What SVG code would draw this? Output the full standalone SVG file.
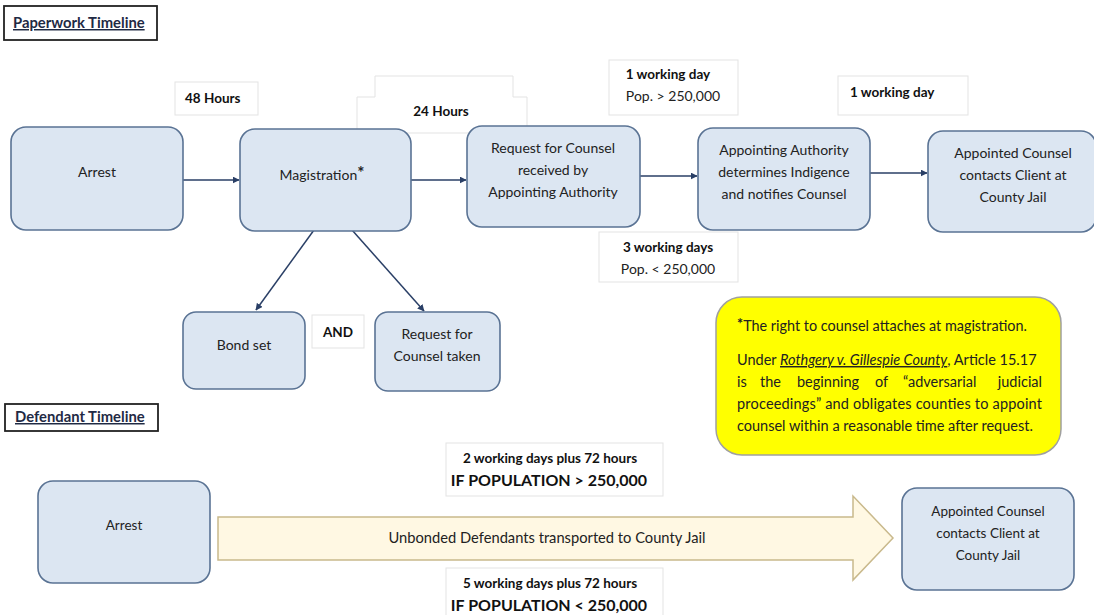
<svg xmlns="http://www.w3.org/2000/svg" width="1094" height="615" viewBox="0 0 1094 615">
<style>
.node{fill:#DCE6F2;stroke:#5A7394;stroke-width:1.6}
.lbl{fill:#fff;stroke:#E3E3E3;stroke-width:1}
.t{font-family:Lato,"Open Sans",sans-serif;font-size:14px;fill:#222;text-anchor:middle}
.b{font-family:Lato,"Open Sans",sans-serif;font-size:13.5px;font-weight:bold;fill:#111}
.c{text-anchor:middle}
.conn{stroke:#2A3F66;stroke-width:1.5;fill:none}
.y{font-family:Lato,"Open Sans",sans-serif;font-size:14.5px;fill:#222}
</style>
<defs>
<marker id="ah" viewBox="0 0 10 10" refX="9" refY="5" markerWidth="7" markerHeight="7" orient="auto" markerUnits="userSpaceOnUse"><path d="M0,0 L10,5 L0,10 z" fill="#2A3F66"/></marker>
</defs>
<rect width="1094" height="615" fill="#fff"/>

<g id="title-paperwork">
<rect x="4" y="6" width="153" height="34" fill="#fff" stroke="#222" stroke-width="1.8"/>
<text x="13" y="28" class="b" style="font-size:14.8px;fill:#1F2A44" text-decoration="underline">Paperwork Timeline</text>
</g>

<g id="lbl-48">
<rect x="175" y="82" width="83" height="33" class="lbl"/>
<text x="185" y="103" class="b">48 Hours</text>
</g>
<g id="lbl-24">
<path d="M375,97 V76 H513 V97 H527 V133 H357 V97 Z" class="lbl"/>
<text x="441" y="116" class="b c">24 Hours</text>
</g>
<g id="lbl-1day-a">
<rect x="609" y="60" width="129" height="55" class="lbl"/>
<text x="668" y="79" class="b c">1 working day</text>
<text x="673" y="101" class="t">Pop. &gt; 250,000</text>
</g>
<g id="lbl-1day-b">
<rect x="838" y="76" width="130" height="39" class="lbl"/>
<text x="850" y="97" class="b">1 working day</text>
</g>
<g id="lbl-3days">
<rect x="599" y="232" width="139" height="50" class="lbl"/>
<text x="668" y="252" class="b c">3 working days</text>
<text x="668" y="274" class="t">Pop. &lt; 250,000</text>
</g>
<g id="lbl-and">
<rect x="312" y="315" width="52" height="33" class="lbl"/>
<text x="338" y="337" class="b c">AND</text>
</g>

<g id="connectors">
<line x1="182" y1="180" x2="239" y2="180" class="conn" marker-end="url(#ah)"/>
<line x1="411" y1="180" x2="466" y2="180" class="conn" marker-end="url(#ah)"/>
<line x1="640" y1="176" x2="697" y2="176" class="conn" marker-end="url(#ah)"/>
<line x1="870" y1="173" x2="927" y2="173" class="conn" marker-end="url(#ah)"/>
<line x1="314" y1="230" x2="256" y2="310" class="conn" marker-end="url(#ah)"/>
<line x1="352" y1="230" x2="424" y2="311" class="conn" marker-end="url(#ah)"/>
</g>

<g id="n-arrest"><rect x="11" y="127" width="172" height="103" rx="15" class="node"/>
<text x="97" y="177" class="t">Arrest</text></g>
<g id="n-mag"><rect x="240" y="129" width="171" height="102" rx="15" class="node"/>
<text x="322" y="180" class="t">Magistration<tspan font-weight="bold" font-size="17" dy="-1">*</tspan></text></g>
<g id="n-request"><rect x="467" y="126" width="173" height="101" rx="15" class="node"/>
<text x="553" y="153" class="t">Request for Counsel</text>
<text x="553" y="175" class="t">received by</text>
<text x="553" y="197" class="t">Appointing Authority</text></g>
<g id="n-aa"><rect x="698" y="128" width="172" height="102" rx="15" class="node"/>
<text x="784" y="155" class="t">Appointing Authority</text>
<text x="784" y="177" class="t">determines Indigence</text>
<text x="784" y="199" class="t">and notifies Counsel</text></g>
<g id="n-appointed"><rect x="928" y="131" width="168" height="101" rx="15" class="node"/>
<text x="1013" y="158" class="t">Appointed Counsel</text>
<text x="1013" y="180" class="t">contacts Client at</text>
<text x="1013" y="202" class="t">County Jail</text></g>
<g id="n-bond"><rect x="183" y="312" width="122" height="77" rx="13" class="node"/>
<text x="244" y="350" class="t">Bond set</text></g>
<g id="n-taken"><rect x="375" y="312" width="125" height="79" rx="13" class="node"/>
<text x="437" y="339" class="t">Request for</text>
<text x="437" y="361" class="t">Counsel taken</text></g>

<g id="note">
<rect x="716" y="297" width="345" height="158" rx="26" fill="#FFFF00" stroke="#A0A0A0" stroke-width="1.5"/>
<text x="737" y="331" class="y" style="font-size:14.4px"><tspan font-weight="bold" dy="-2">*</tspan><tspan dy="2">The right to counsel attaches at magistration.</tspan></text>
<text x="737" y="365" class="y">Under <tspan font-style="italic" text-decoration="underline">Rothgery v. Gillespie County</tspan>, Article 15.17</text>
<text y="387" class="y"><tspan x="737">is</tspan><tspan x="760">the</tspan><tspan x="797">beginning</tspan><tspan x="875">of</tspan><tspan x="903">“adversarial</tspan></text>
<text x="1042" y="387" class="y" text-anchor="end">judicial</text>
<text x="737" y="409" class="y" textLength="305" lengthAdjust="spacing">proceedings” and obligates counties to appoint</text>
<text x="737" y="431" class="y">counsel within a reasonable time after request.</text>
</g>

<g id="title-defendant">
<rect x="5" y="404" width="153" height="27" fill="#fff" stroke="#222" stroke-width="1.8"/>
<text x="15" y="422" class="b" style="font-size:14.8px;fill:#1F2A44" text-decoration="underline">Defendant Timeline</text>
</g>

<g id="lbl-top">
<rect x="446" y="443" width="217" height="53" class="lbl"/>
<text x="550" y="463" class="b c">2 working days plus 72 hours</text>
<text x="549" y="486" class="b c" style="font-size:16px">IF POPULATION &gt; 250,000</text>
</g>
<g id="lbl-bottom">
<rect x="446" y="568" width="217" height="50" class="lbl"/>
<text x="550" y="588" class="b c">5 working days plus 72 hours</text>
<text x="549" y="611" class="b c" style="font-size:16px">IF POPULATION &lt; 250,000</text>
</g>

<g id="n-arrest2"><rect x="38" y="481" width="172" height="102" rx="15" class="node"/>
<text x="124" y="530" class="t" style="font-size:13.5px">Arrest</text></g>

<g id="big-arrow">
<path d="M218,517 H853 V496 L893,538 L853,580 V560 H218 Z" fill="#FFF8E3" stroke="#C9B98C" stroke-width="1.5"/>
<text x="547" y="543" class="t" style="font-size:14.7px">Unbonded Defendants transported to County Jail</text>
</g>

<g id="n-appointed2"><rect x="902" y="488" width="172" height="102" rx="15" class="node"/>
<text x="988" y="516" class="t" style="font-size:13.5px">Appointed Counsel</text>
<text x="988" y="538" class="t" style="font-size:13.5px">contacts Client at</text>
<text x="988" y="560" class="t" style="font-size:13.5px">County Jail</text></g>
</svg>
